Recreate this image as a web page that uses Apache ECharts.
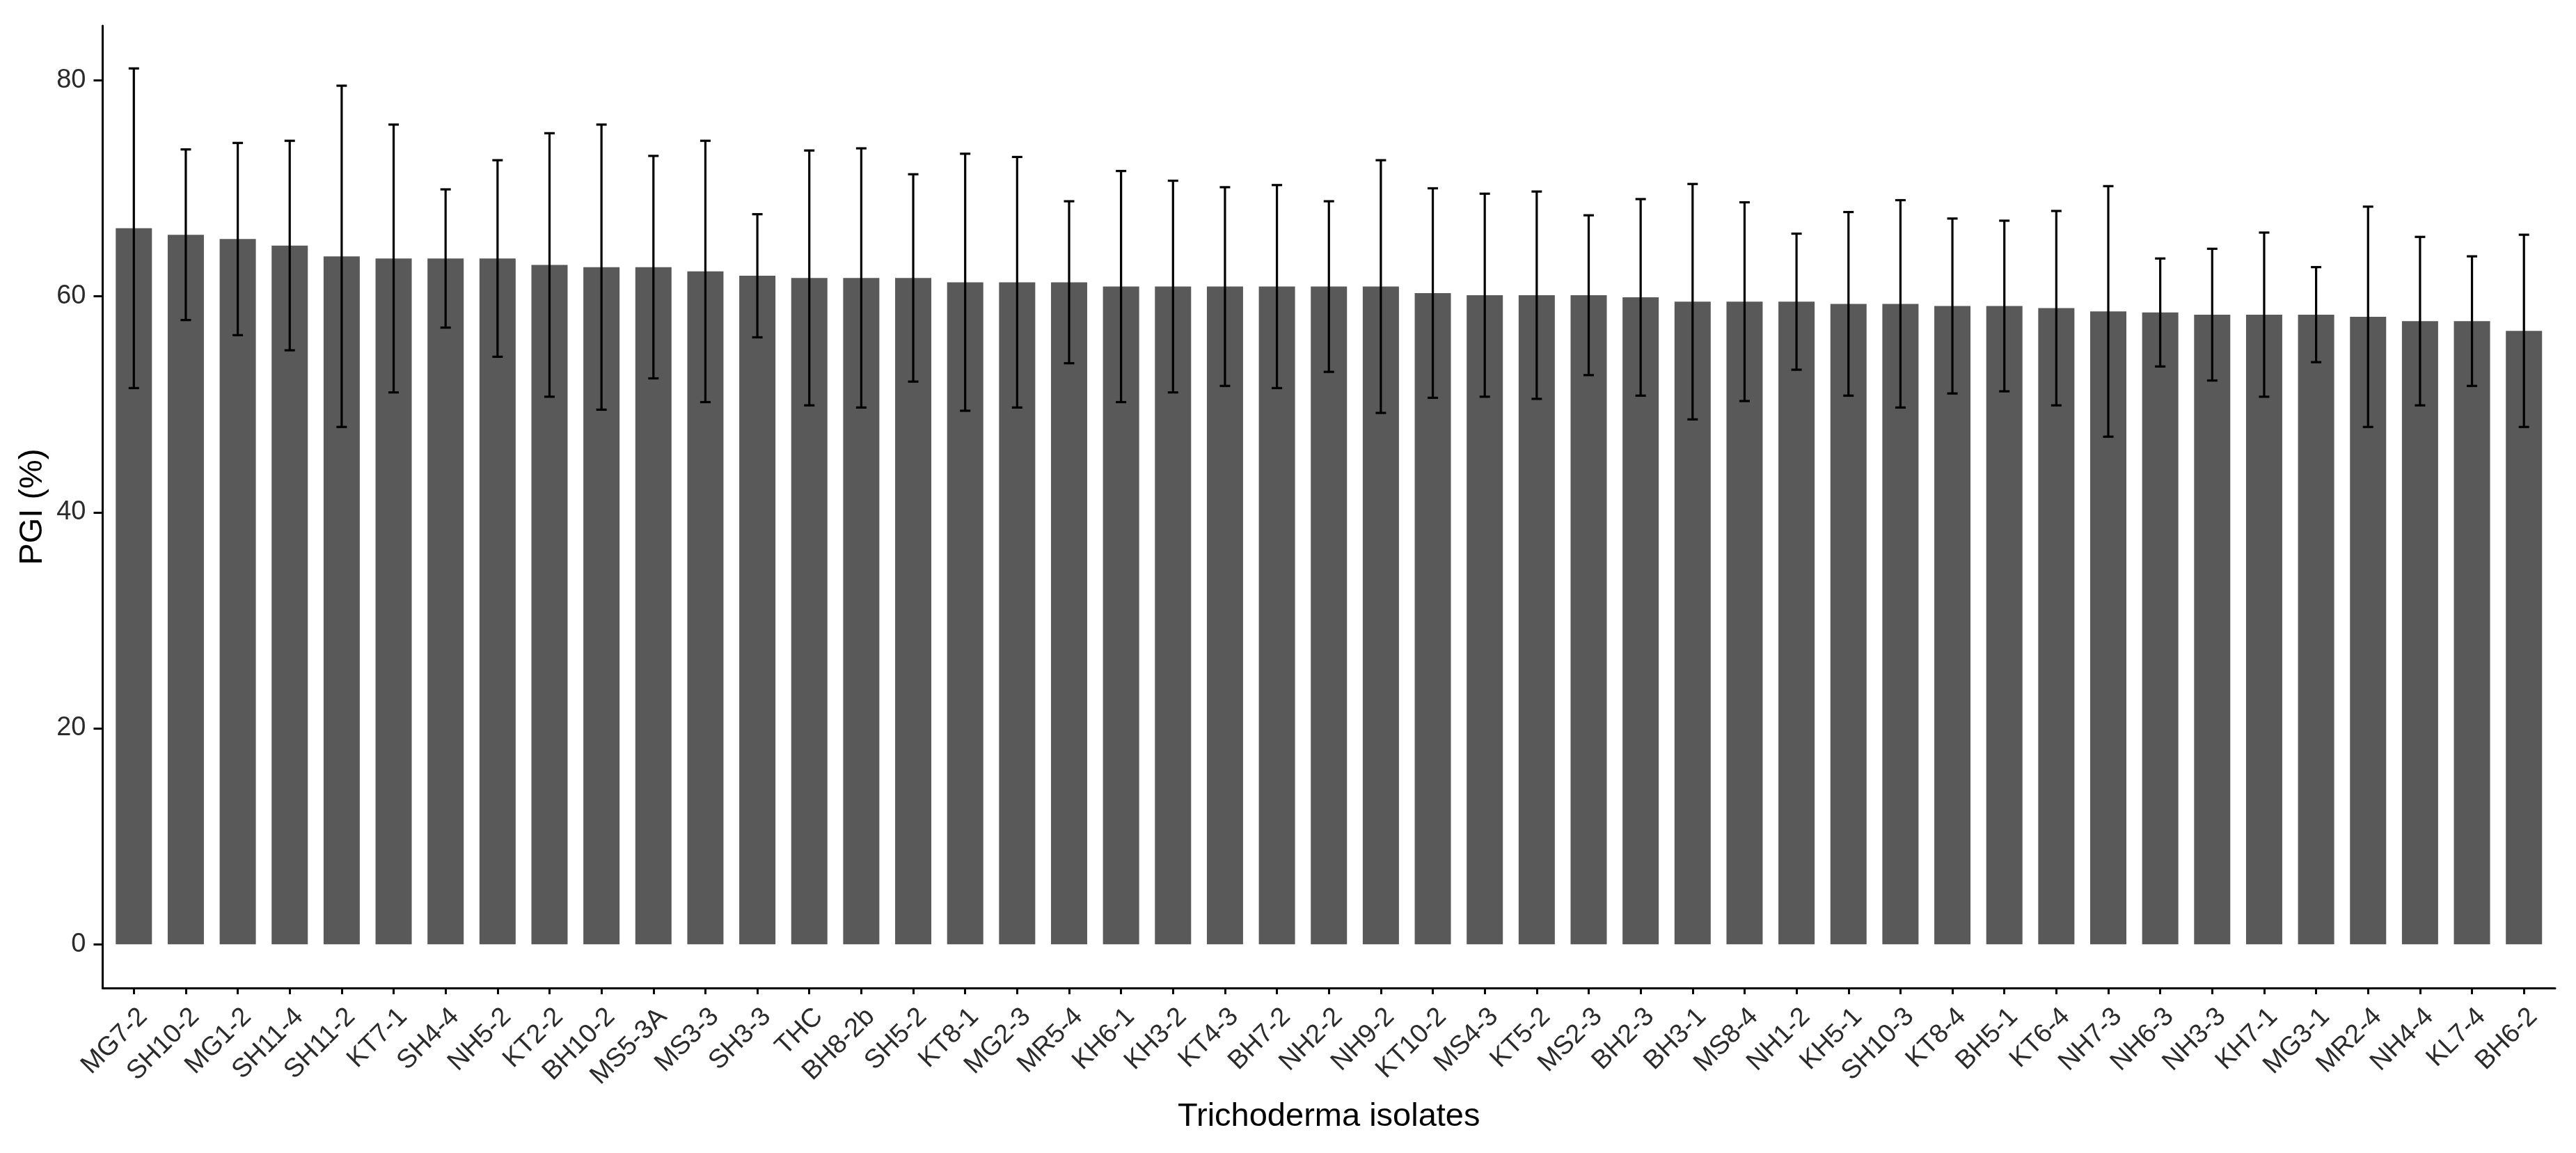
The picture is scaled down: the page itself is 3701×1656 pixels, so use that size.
<!DOCTYPE html>
<html>
<head>
<meta charset="utf-8">
<script src="https://cdn.jsdelivr.net/npm/echarts@6/dist/echarts.min.js"></script>
<style>
html,body{margin:0;padding:0;background:#fff;}
#chart{width:3701px;height:1656px;}
</style>
</head>
<body>
<div id="chart"></div>
<script>
const isolates = ["MG7-2","SH10-2","MG1-2","SH11-4","SH11-2","KT7-1","SH4-4","NH5-2","KT2-2","BH10-2","MS5-3A","MS3-3","SH3-3","THC","BH8-2b","SH5-2","KT8-1","MG2-3","MR5-4","KH6-1","KH3-2","KT4-3","BH7-2","NH2-2","NH9-2","KT10-2","MS4-3","KT5-2","MS2-3","BH2-3","BH3-1","MS8-4","NH1-2","KH5-1","SH10-3","KT8-4","BH5-1","KT6-4","NH7-3","NH6-3","NH3-3","KH7-1","MG3-1","MR2-4","NH4-4","KL7-4","BH6-2"];
const pgiMean = [66.3,65.7,65.3,64.7,63.7,63.5,63.5,63.5,62.9,62.7,62.7,62.3,61.9,61.7,61.7,61.7,61.3,61.3,61.3,60.9,60.9,60.9,60.9,60.9,60.9,60.3,60.1,60.1,60.1,59.9,59.5,59.5,59.5,59.3,59.3,59.1,59.1,58.9,58.6,58.5,58.3,58.3,58.3,58.1,57.7,57.7,56.8];
const pgiSd = [14.8,7.9,8.9,9.7,15.8,12.4,6.4,9.1,12.2,13.2,10.3,12.1,5.7,11.8,12.0,9.6,11.9,11.6,7.5,10.7,9.8,9.2,9.4,7.9,11.7,9.7,9.4,9.6,7.4,9.1,10.9,9.2,6.3,8.5,9.6,8.1,7.9,9.0,11.6,5.0,6.1,7.6,4.4,10.2,7.8,6.0,8.9];
const yTicks = [0,20,40,60,80];

const idx = isolates.map((_, i) => i);
const barData = pgiMean.map((v, i) => [i, v]);
const errData = pgiMean.map((v, i) => [i, v - pgiSd[i], v + pgiSd[i]]);

const chart = echarts.init(document.getElementById('chart'), null, {renderer: 'canvas'});
const FONT = '"Liberation Sans", Arial, sans-serif';

chart.setOption({
  animation: false,
  backgroundColor: '#ffffff',
  grid: {left: 147.5, right: 30, top: 37, bottom: 237, outerBoundsMode: 'none', containLabel: false},
  xAxis: {
    type: 'value',
    min: -0.6,
    max: 46.6,
    name: 'Trichoderma isolates',
    nameLocation: 'middle',
    nameGap: 162,
    nameTextStyle: {fontFamily: FONT, fontSize: 47, color: '#000'},
    axisLine: {show: true, onZero: false, lineStyle: {color: '#000', width: 3}},
    axisTick: {show: true, length: 9, customValues: idx, lineStyle: {color: '#000', width: 3}},
    axisLabel: {
      customValues: idx,
      formatter: v => isolates[Math.round(v)],
      rotate: 45,
      verticalAlign: 'top',
      margin: 22,
      fontFamily: FONT, fontSize: 38, color: '#2b2b2b'
    },
    splitLine: {show: false}
  },
  yAxis: {
    type: 'value',
    min: -4.05,
    max: 85.05,
    name: 'PGI (%)',
    nameLocation: 'middle',
    nameGap: 75,
    nameTextStyle: {fontFamily: FONT, fontSize: 47, color: '#000'},
    axisLine: {show: true, onZero: false, lineStyle: {color: '#000', width: 3}},
    axisTick: {show: true, length: 13, customValues: yTicks, lineStyle: {color: '#000', width: 3}},
    axisLabel: {customValues: yTicks, margin: 24, fontFamily: FONT, fontSize: 38, color: '#2b2b2b'},
    splitLine: {show: false}
  },
  series: [
    {
      type: 'bar',
      data: barData,
      barWidth: 52,
      itemStyle: {color: '#595959'},
      z: 2
    },
    {
      type: 'custom',
      data: errData,
      encode: {x: 0, y: [1, 2]},
      z: 3,
      renderItem: function (params, api) {
        const x = api.value(0), lo = api.value(1), hi = api.value(2);
        const pLo = api.coord([x, lo]);
        const pHi = api.coord([x, hi]);
        const hw = 7.5;
        const st = {stroke: '#000', lineWidth: 3.2, fill: null};
        return {
          type: 'group',
          children: [
            {type: 'line', shape: {x1: pLo[0], y1: pLo[1], x2: pHi[0], y2: pHi[1]}, style: st},
            {type: 'line', shape: {x1: pHi[0] - hw, y1: pHi[1], x2: pHi[0] + hw, y2: pHi[1]}, style: st},
            {type: 'line', shape: {x1: pLo[0] - hw, y1: pLo[1], x2: pLo[0] + hw, y2: pLo[1]}, style: st}
          ]
        };
      }
    }
  ]
});
</script>
</body>
</html>
